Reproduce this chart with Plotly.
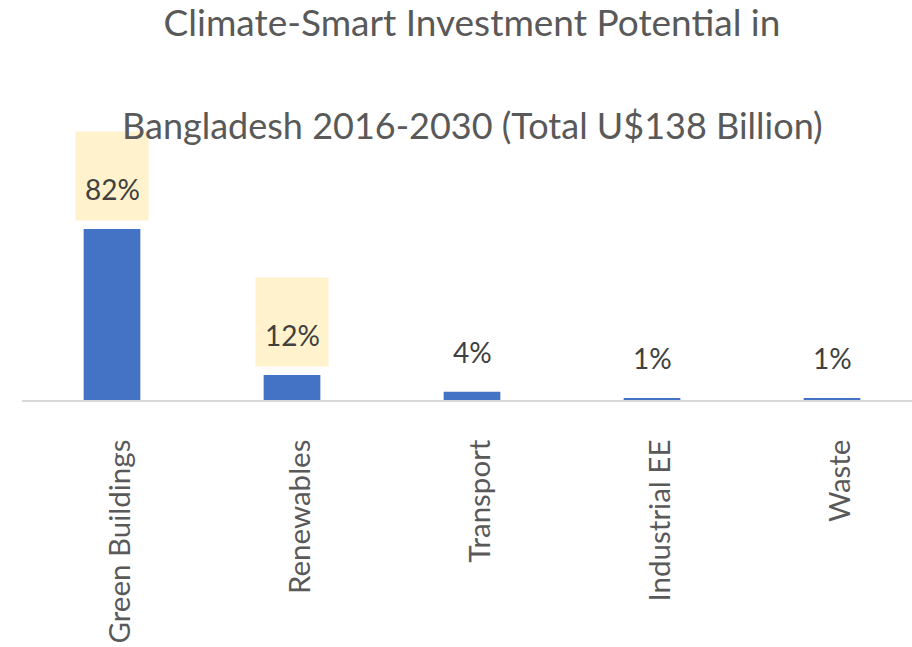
import plotly.graph_objects as go

# Investment potential by sector (share of total, %)
sectors = ["Green Buildings", "Renewables", "Transport", "Industrial EE", "Waste"]
shares = [82, 12, 4, 1, 1]
share_labels = ["82%", "12%", "4%", "1%", "1%"]
highlighted = [True, True, False, False, False]

title_line1 = "Climate-Smart Investment Potential in"
title_line2 = "Bangladesh 2016-2030 (Total U$138 Billion)"

FONT = "Lato"
BAR_COLOR = "#4472C4"
LABEL_FILL = "#FFF2CC"
GREY = "#595959"

fig = go.Figure(
    go.Bar(
        x=sectors,
        y=shares,
        marker=dict(color=BAR_COLOR, line=dict(width=0)),
        width=0.315,
        hoverinfo="skip",
    )
)

annotations = []
for sector, share, label, hl in zip(sectors, shares, share_labels, highlighted):
    if hl:
        # shaded label box sitting just above the bar
        annotations.append(dict(
            x=sector, y=share, xref="x", yref="y",
            text=" ", showarrow=False,
            width=72, height=88, borderpad=0,
            bgcolor=LABEL_FILL,
            xanchor="center", yanchor="bottom", yshift=8,
        ))
    annotations.append(dict(
        x=sector, y=share, xref="x", yref="y",
        text=label, showarrow=False,
        font=dict(family=FONT, size=28, color="#404040"),
        xanchor="center", yanchor="middle", yshift=40,
    ))

annotations.append(dict(
    x=(472 - 22) / 890, y=(400 - 125) / 270, xref="paper", yref="paper",
    text=title_line2, showarrow=False,
    font=dict(family=FONT, size=36, color=GREY),
    xanchor="center", yanchor="middle",
))

fig.update_layout(
    width=912, height=647,
    margin=dict(l=22, r=0, t=130, b=247),
    paper_bgcolor="white", plot_bgcolor="white",
    showlegend=False,
    title=dict(
        text=title_line1,
        x=472 / 912, xanchor="center",
        y=1 - 23 / 647, yanchor="middle", yref="container",
        font=dict(family=FONT, size=37, color=GREY),
    ),
    annotations=annotations,
    xaxis=dict(
        range=[-0.5, 4.5 - 10 / 180],
        showline=True, linecolor="#D9D9D9", linewidth=1.5,
        showgrid=False, zeroline=False, automargin=False,
        ticks="", tickangle=-90,
        ticklabelstandoff=26, ticklabelshift=8,
        tickfont=dict(family=FONT, size=29.5, color=GREY),
    ),
    yaxis=dict(
        range=[0, 270 / (171 / 82)],
        visible=False, showgrid=False, zeroline=False, automargin=False,
    ),
)

fig.write_html("out.html")
